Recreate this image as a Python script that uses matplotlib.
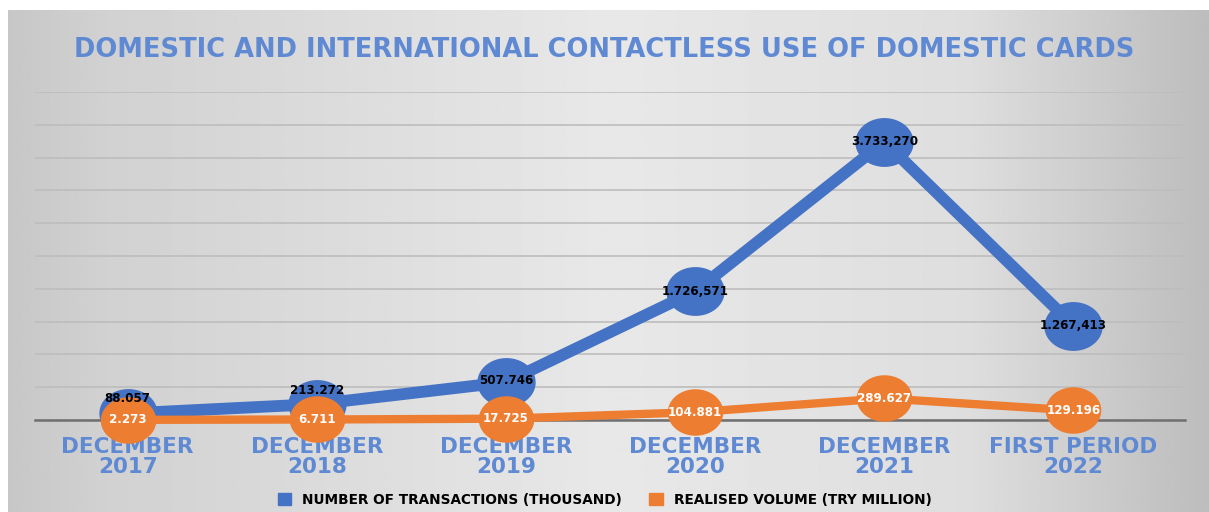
import numpy as np
import matplotlib
matplotlib.use("Agg")
import matplotlib.pyplot as plt
from matplotlib.patches import Patch
from matplotlib.path import Path

# data
periods = ["DECEMBER\n2017", "DECEMBER\n2018", "DECEMBER\n2019",
           "DECEMBER\n2020", "DECEMBER\n2021", "FIRST PERIOD\n2022"]
transactions = [88.057, 213.272, 507.746, 1726.571, 3733.270, 1267.413]
transaction_labels = ["88.057", "213.272", "507.746", "1.726,571", "3.733,270", "1.267,413"]
volume = [2.273, 6.711, 17.725, 104.881, 289.627, 129.196]
volume_labels = ["2.273", "6.711", "17.725", "104.881", "289.627", "129.196"]

BLUE = "#4472C4"
ORANGE = "#ED7D31"
TITLE_BLUE = "#5F8AD3"

W, H = 1209, 512
fig = plt.figure(figsize=(W / 100, H / 100), dpi=100)
fig.patch.set_facecolor("white")

# grey gradient background (white strip top / left like the screenshot)
bg = fig.add_axes([8 / W, 0, 1 - 8 / W, 1 - 10 / H])
bg.set_axis_off()
xs = np.linspace(0, 1, 600)
shade = np.interp(xs, [0, 0.08, 0.5, 0.8, 1.0], [0.78, 0.82, 0.91, 0.87, 0.74])
img = np.tile(shade, (50, 1))
bg.imshow(img, cmap="gray", vmin=0, vmax=1, aspect="auto", extent=[0, 1, 0, 1])
bg.set_xlim(0, 1)
bg.set_ylim(0, 1)

# plot area
ax = fig.add_axes([35 / W, (H - 420) / H, 1150 / W, 328 / H])
ax.patch.set_alpha(0)
x = np.arange(len(periods))

# ellipse marker (reference is stretched horizontally)
t = np.linspace(0, 2 * np.pi, 60)
ell = Path(np.column_stack([1.2 * np.cos(t), np.sin(t)]), closed=True)

ax.plot(x, transactions, color=BLUE, lw=8.5, marker=ell, ms=41,
        mfc=BLUE, mec=BLUE, zorder=3, solid_capstyle="round", clip_on=False)
ax.plot(x, volume, color=ORANGE, lw=6, marker=ell, ms=39,
        mfc=ORANGE, mec=ORANGE, zorder=4, solid_capstyle="round", clip_on=False)

blue_offsets = [11, 10, 1, 0, 0, 0]
for i, (v, lab) in enumerate(zip(transactions, transaction_labels)):
    ax.annotate(lab, (x[i], v), xytext=(0, blue_offsets[i]), textcoords="offset points",
                ha="center", va="center", fontsize=8.6, fontweight="bold",
                color="black", zorder=6)
for i, (v, lab) in enumerate(zip(volume, volume_labels)):
    ax.annotate(lab, (x[i], v), xytext=(0, 0), textcoords="offset points",
                ha="center", va="center", fontsize=8.6, fontweight="bold",
                color="white", zorder=6)

ax.set_xlim(-0.49, 5.59)
ax.set_ylim(0, 4400)
ax.set_yticks(np.arange(0, 4401, 440))
ax.yaxis.grid(True, color="#bdbdbd", lw=1.2)
ax.set_axisbelow(True)
ax.tick_params(left=False, labelleft=False, bottom=False)
for s in ["top", "right", "left"]:
    ax.spines[s].set_visible(False)
ax.spines["bottom"].set_color("#6f6f6f")
ax.spines["bottom"].set_linewidth(1.8)
ax.spines["bottom"].set_zorder(2)

ax.set_xticks(x)
ax.set_xticklabels(periods, fontsize=15.5, fontweight="bold", color=TITLE_BLUE,
                   linespacing=0.95)
ax.tick_params(axis="x", pad=9)

fig.text(0.5, (H - 50) / H, "DOMESTIC AND INTERNATIONAL CONTACTLESS USE OF DOMESTIC CARDS",
         ha="center", va="center", fontsize=18.5, fontweight="bold", color=TITLE_BLUE)

handles = [Patch(color=BLUE, label="NUMBER OF TRANSACTIONS (THOUSAND)"),
           Patch(color=ORANGE, label="REALISED VOLUME (TRY MILLION)")]
fig.legend(handles=handles, loc="center", bbox_to_anchor=(0.5, (H - 500) / H), ncol=2,
           frameon=False, prop={"size": 9.8, "weight": "bold"},
           handlelength=1.0, handleheight=1.0, columnspacing=2.0)

fig.savefig("out.png", dpi=100)
